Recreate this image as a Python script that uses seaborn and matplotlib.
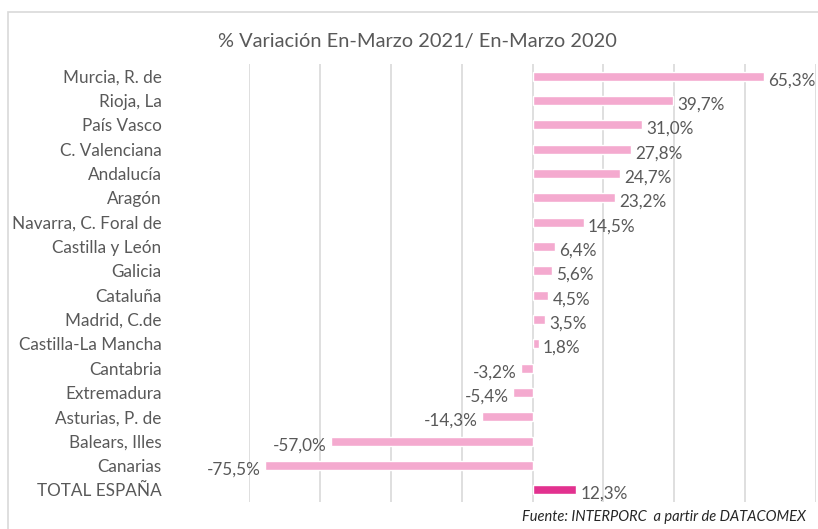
import matplotlib
matplotlib.use("Agg")
import matplotlib.pyplot as plt
import seaborn as sns
import pandas as pd
from matplotlib.patches import Rectangle

regiones = [
    "Murcia, R. de", "Rioja, La", "País Vasco", "C. Valenciana", "Andalucía",
    "Aragón", "Navarra, C. Foral de", "Castilla y León", "Galicia", "Cataluña",
    "Madrid, C.de", "Castilla-La Mancha", "Cantabria", "Extremadura",
    "Asturias, P. de", "Balears, Illes", "Canarias", "TOTAL ESPAÑA",
]
variacion = [65.3, 39.7, 31.0, 27.8, 24.7, 23.2, 14.5, 6.4, 5.6, 4.5, 3.5, 1.8,
             -3.2, -5.4, -14.3, -57.0, -75.5, 12.3]
ticks_x = [-80, -60, -40, -20, 0, 20, 40, 60, 80]

titulo = "% Variación En-Marzo 2021/ En-Marzo 2020"
fuente = "Fuente: INTERPORC  a partir de DATACOMEX"

rosa = "#F4AACF"
rosa_total = "#E2318F"
gris_texto = "#595959"
gris_rejilla = "#D9D9D9"

sns.set_theme(style="white")
plt.rcParams["font.family"] = ["Lato", "DejaVu Sans"]

df = pd.DataFrame({"region": regiones, "valor": variacion})
colores = [rosa_total if r == "TOTAL ESPAÑA" else rosa for r in regiones]

fig = plt.figure(figsize=(8.18, 5.29), dpi=100)
ax = fig.add_axes([249 / 818, 1 - 502 / 529, (816 - 249) / 818, (502 - 64) / 529])

sns.barplot(data=df, x="valor", y="region", hue="region", palette=colores,
            order=regiones, hue_order=regiones, legend=False, width=0.36,
            saturation=1, orient="h", ax=ax)

ax.set_xlim(-80, 80)
ax.set_ylim(len(regiones) - 0.5, -0.5)
ax.set_xticks(ticks_x)
ax.set_xticklabels([])
ax.tick_params(axis="x", length=0)
ax.tick_params(axis="y", length=0, pad=63, labelsize=12.3, labelcolor=gris_texto)
for lbl in ax.get_yticklabels():
    lbl.set_horizontalalignment("right")
ax.set_xlabel("")
ax.set_ylabel("")
for s in ax.spines.values():
    s.set_visible(False)
ax.grid(axis="x", color=gris_rejilla, linewidth=1.2)
ax.set_axisbelow(True)

for i, v in enumerate(variacion):
    txt = f"{v:.1f}%".replace(".", ",")
    if v >= 0:
        ax.annotate(txt, (v, i), xytext=(3, -3), textcoords="offset points",
                    ha="left", va="center", fontsize=12.3, color=gris_texto)
    else:
        ax.annotate(txt, (v, i), xytext=(-3, -3), textcoords="offset points",
                    ha="right", va="center", fontsize=12.3, color=gris_texto)

# chart frame
fig.patches.append(Rectangle((8 / 818, -0.01), 1.0, 1 - 12 / 529 + 0.01,
                             transform=fig.transFigure, fill=False,
                             edgecolor="#D9D9D9", linewidth=1.2))

fig.text(417 / 818, 1 - 41 / 529, titulo, ha="center", va="center",
         fontsize=14.4, color=gris_texto)
fig.text(806 / 818, 1 - 517 / 529, fuente, ha="right", va="center",
         fontsize=10.5, style="italic", color="#262626")

fig.savefig("out.png", dpi=100)
